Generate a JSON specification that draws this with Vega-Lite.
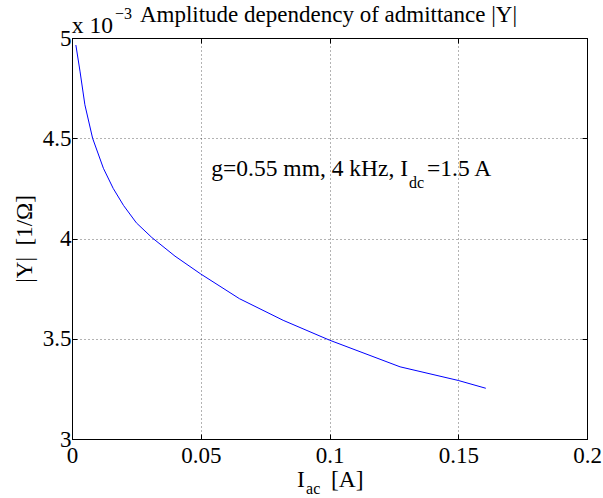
{
  "$schema": "https://vega.github.io/schema/vega-lite/v6.json",
  "width": 515,
  "height": 401,
  "autosize": "none",
  "padding": {"left": 72, "top": 38, "right": 16, "bottom": 59},
  "background": "white",
  "datasets": {
    "curve": [
      {"I_ac": 0.0015, "Y": 4.965},
      {"I_ac": 0.0031, "Y": 4.835},
      {"I_ac": 0.005, "Y": 4.667},
      {"I_ac": 0.008, "Y": 4.5},
      {"I_ac": 0.0122, "Y": 4.35},
      {"I_ac": 0.016, "Y": 4.25},
      {"I_ac": 0.02, "Y": 4.165},
      {"I_ac": 0.025, "Y": 4.078},
      {"I_ac": 0.031, "Y": 4.005},
      {"I_ac": 0.04, "Y": 3.912},
      {"I_ac": 0.05, "Y": 3.823},
      {"I_ac": 0.065, "Y": 3.7},
      {"I_ac": 0.082, "Y": 3.592},
      {"I_ac": 0.1, "Y": 3.493},
      {"I_ac": 0.1274, "Y": 3.36},
      {"I_ac": 0.15, "Y": 3.292},
      {"I_ac": 0.1607, "Y": 3.253}
    ],
    "bigLeft": [
      {"x": 0.1379, "y": 4.312, "text": "=1.5 A"},
      {"x": 0.1006, "y": 2.763, "text": "[A]"}
    ],
    "bigRight": [
      {"x": 0.1305, "y": 4.312, "text": "g=0.55 mm, 4 kHz, I"},
      {"x": 0.0159, "y": 5.025, "text": "x 10"},
      {"x": 0.0904, "y": 2.763, "text": "I"}
    ],
    "small": [
      {"x": 0.1309, "y": 4.254, "text": "dc"},
      {"x": 0.0167, "y": 5.095, "text": "−3"},
      {"x": 0.0909, "y": 2.726, "text": "ac"}
    ],
    "heading": [
      {"x": 0.0996, "y": 5.082, "text": "Amplitude dependency of admittance |Y|"}
    ]
  },
  "layer": [
    {
      "data": {"name": "curve"},
      "mark": {"type": "line", "color": "#0000ff", "strokeWidth": 1},
      "encoding": {
        "x": {"field": "I_ac", "type": "quantitative",
          "scale": {"domain": [0, 0.2], "nice": false, "zero": false},
          "axis": {"orient": "bottom", "values": [0, 0.05, 0.1, 0.15, 0.2], "title": null, "grid": true, "labelExpr": "toString(datum.value)", "labelPadding": 10}},
        "y": {"field": "Y", "type": "quantitative",
          "scale": {"domain": [3, 5], "nice": false, "zero": false},
          "axis": {"orient": "left", "values": [3, 3.5, 4, 4.5, 5], "title": "|Y|\u00a0\u00a0[1/Ω]", "grid": true, "labelExpr": "toString(datum.value)", "labelPadding": 6, "titlePadding": 6}}
      }
    },
    {
      "data": {"name": "curve"},
      "mark": {"type": "line", "opacity": 0},
      "encoding": {
        "x": {"field": "I_ac", "type": "quantitative",
          "scale": {"domain": [0, 0.2], "nice": false, "zero": false},
          "axis": {"orient": "top", "values": [0, 0.05, 0.1, 0.15, 0.2], "title": null, "grid": false, "labels": false}},
        "y": {"field": "Y", "type": "quantitative",
          "scale": {"domain": [3, 5], "nice": false, "zero": false},
          "axis": {"orient": "right", "values": [3, 3.5, 4, 4.5, 5], "title": null, "grid": false, "labels": false}}
      }
    },
    {
      "data": {"name": "bigLeft"},
      "mark": {"type": "text", "align": "left", "baseline": "alphabetic", "font": "Liberation Serif", "fontSize": 23.5, "color": "#000"},
      "encoding": {
        "x": {"field": "x", "type": "quantitative", "scale": {"domain": [0, 0.2], "nice": false, "zero": false}, "axis": null},
        "y": {"field": "y", "type": "quantitative", "scale": {"domain": [3, 5], "nice": false, "zero": false}, "axis": null},
        "text": {"field": "text"}
      }
    },
    {
      "data": {"name": "bigRight"},
      "mark": {"type": "text", "align": "right", "baseline": "alphabetic", "font": "Liberation Serif", "fontSize": 23.5, "color": "#000"},
      "encoding": {
        "x": {"field": "x", "type": "quantitative", "scale": {"domain": [0, 0.2], "nice": false, "zero": false}, "axis": null},
        "y": {"field": "y", "type": "quantitative", "scale": {"domain": [3, 5], "nice": false, "zero": false}, "axis": null},
        "text": {"field": "text"}
      }
    },
    {
      "data": {"name": "small"},
      "mark": {"type": "text", "align": "left", "baseline": "alphabetic", "font": "Liberation Serif", "fontSize": 16, "color": "#000"},
      "encoding": {
        "x": {"field": "x", "type": "quantitative", "scale": {"domain": [0, 0.2], "nice": false, "zero": false}, "axis": null},
        "y": {"field": "y", "type": "quantitative", "scale": {"domain": [3, 5], "nice": false, "zero": false}, "axis": null},
        "text": {"field": "text"}
      }
    },
    {
      "data": {"name": "heading"},
      "mark": {"type": "text", "align": "center", "baseline": "alphabetic", "font": "Liberation Serif", "fontSize": 23, "color": "#000"},
      "encoding": {
        "x": {"field": "x", "type": "quantitative", "scale": {"domain": [0, 0.2], "nice": false, "zero": false}, "axis": null},
        "y": {"field": "y", "type": "quantitative", "scale": {"domain": [3, 5], "nice": false, "zero": false}, "axis": null},
        "text": {"field": "text"}
      }
    }
  ],
  "resolve": {"axis": {"x": "independent", "y": "independent"}},
  "config": {
    "view": {"stroke": "#000", "strokeWidth": 1},
    "axis": {
      "labelFont": "Liberation Serif", "labelFontSize": 23, "labelColor": "#000",
      "titleFont": "Liberation Serif", "titleFontSize": 23, "titleFontWeight": "normal", "titleColor": "#000",
      "domainColor": "#000", "tickColor": "#000", "tickSize": -5,
      "gridColor": "#000", "gridOpacity": 0.6, "gridDash": [1, 3],
      "labelFlush": false, "labelOverlap": false
    }
  }
}
